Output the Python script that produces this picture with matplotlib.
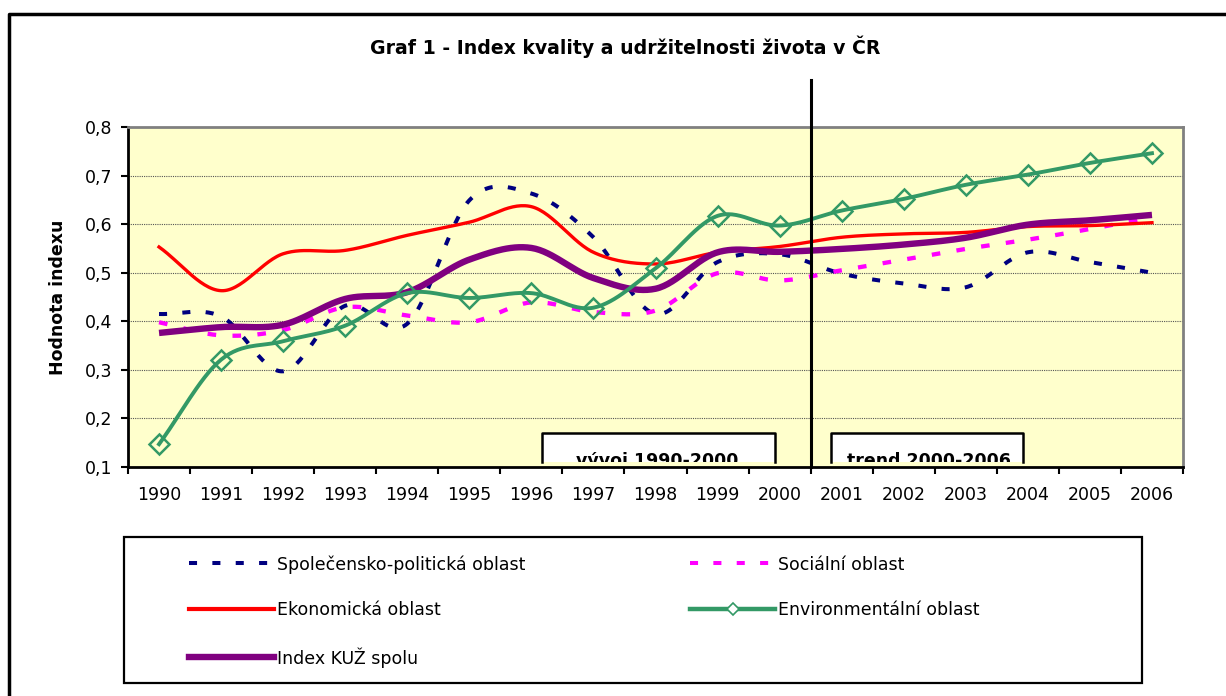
import numpy as np
import matplotlib
matplotlib.use("Agg")
import matplotlib.pyplot as plt
from matplotlib.lines import Line2D
from matplotlib.patches import Rectangle

plt.rcParams['font.family'] = ['DejaVu Sans']

years = [str(y) for y in range(1990, 2007)]
spolecensko = [0.415, 0.410, 0.297, 0.432, 0.395, 0.649, 0.663, 0.573, 0.415,
               0.522, 0.538, 0.498, 0.478, 0.470, 0.542, 0.522, 0.500]
socialni = [0.398, 0.371, 0.382, 0.429, 0.412, 0.398, 0.439, 0.419, 0.422,
            0.499, 0.484, 0.505, 0.527, 0.549, 0.568, 0.590, 0.614]
ekonomicka = [0.553, 0.463, 0.539, 0.546, 0.577, 0.604, 0.636, 0.542, 0.518,
              0.542, 0.554, 0.573, 0.580, 0.583, 0.595, 0.597, 0.603]
environment = [0.147, 0.321, 0.359, 0.391, 0.458, 0.448, 0.458, 0.428, 0.509,
               0.617, 0.597, 0.628, 0.652, 0.681, 0.702, 0.726, 0.746]
index_kuz = [0.376, 0.388, 0.393, 0.446, 0.460, 0.527, 0.551, 0.489, 0.467,
             0.542, 0.543, 0.549, 0.558, 0.572, 0.599, 0.608, 0.619]
y_ticks = [0.1, 0.2, 0.3, 0.4, 0.5, 0.6, 0.7, 0.8]
y_ticklabels = ['0,1', '0,2', '0,3', '0,4', '0,5', '0,6', '0,7', '0,8']
labels = ['Společensko-politická oblast', 'Sociální oblast', 'Ekonomická oblast',
          'Environmentální oblast', 'Index KUŽ spolu']


def smooth(xs, ys, n=30):
    """Catmull-Rom (Excel-like) smoothing used only for rendering."""
    p = np.column_stack([xs, ys]).astype(float)
    m = np.zeros_like(p)
    m[1:-1] = (p[2:] - p[:-2]) / 2.0
    m[0] = p[1] - p[0]
    m[-1] = p[-1] - p[-2]
    out = []
    t = np.linspace(0, 1, n, endpoint=False)
    h00 = 2 * t**3 - 3 * t**2 + 1
    h10 = t**3 - 2 * t**2 + t
    h01 = -2 * t**3 + 3 * t**2
    h11 = t**3 - t**2
    for i in range(len(p) - 1):
        seg = (h00[:, None] * p[i] + h10[:, None] * m[i] +
               h01[:, None] * p[i + 1] + h11[:, None] * m[i + 1])
        out.append(seg)
    out.append(p[-1:])
    out = np.vstack(out)
    return out[:, 0], out[:, 1]


W, H = 1226, 696
fig = plt.figure(figsize=(W / 100, H / 100), dpi=100)
ax = fig.add_axes([128 / W, 1 - 467 / H, (1183 - 128) / W, (467 - 127) / H])
ax.set_facecolor('#FFFFCC')

x = np.arange(len(years))
fs = 12.5

navy, magenta, red, green, purple = '#000080', '#FF00FF', '#FF0000', '#339966', '#800080'
dash = (2.0, 3.8)

sx, sy = smooth(x, spolecensko)
ax.plot(sx, sy, color=navy, lw=2.9, dashes=dash, dash_capstyle='butt', zorder=3)
sx, sy = smooth(x, socialni)
ax.plot(sx, sy, color=magenta, lw=3.1, dashes=dash, dash_capstyle='butt', zorder=3)
sx, sy = smooth(x, ekonomicka)
ax.plot(sx, sy, color=red, lw=2.4, zorder=4)
sx, sy = smooth(x, environment)
ax.plot(sx, sy, color=green, lw=2.8, zorder=5)
ax.plot(x, environment, ls='none', marker='D', ms=10, mfc='none', mec=green,
        mew=1.8, zorder=6, clip_on=False)
sx, sy = smooth(x, index_kuz)
ax.plot(sx, sy, color=purple, lw=4.6, zorder=4, solid_capstyle='butt')

ax.set_xlim(-0.5, len(years) - 0.5)
ax.set_ylim(0.1, 0.8)

ax.set_xticks(x)
ax.set_xticklabels(years, fontsize=fs)
ax.set_xticks(np.arange(len(years) + 1) - 0.5, minor=True)
ax.tick_params(axis='x', which='major', length=0, pad=14)
ax.tick_params(axis='x', which='minor', length=5, width=1.5, direction='out')
ax.set_yticks(y_ticks)
ax.set_yticklabels(y_ticklabels, fontsize=fs)
ax.tick_params(axis='y', length=5, width=1.5, direction='out', pad=6)

for v in y_ticks[1:-1]:
    ax.axhline(v, color='#555555', lw=0.8, ls=(0, (1, 1)), zorder=1)

for s in ['top', 'right']:
    ax.spines[s].set_color('#808080')
    ax.spines[s].set_linewidth(2)
for s in ['left', 'bottom']:
    ax.spines[s].set_color('black')
    ax.spines[s].set_linewidth(2)

ax.set_ylabel('Hodnota indexu', fontsize=fs, fontweight='bold', labelpad=13)

# divider between history and trend
ax.plot([10.5, 10.5], [0.1, 0.897], color='black', lw=2.2, zorder=8, clip_on=False)

# period boxes (text overflows the box bottom and is cut, as in the original)
box_bottom, box_top = 0.0147, 0.1
for (x0, x1, xc, txt) in [(0.392, 0.613, 0.502, 'vývoj 1990-2000'),
                          (0.666, 0.848, 0.759, 'trend 2000-2006')]:
    r = Rectangle((x0, box_bottom), x1 - x0, box_top - box_bottom, transform=ax.transAxes,
                  facecolor='white', edgecolor='none', zorder=7)
    ax.add_patch(r)
    ax.add_line(Line2D([x0, x0, x1, x1], [box_bottom, box_top, box_top, box_bottom],
                       transform=ax.transAxes, color='black', lw=1.8, zorder=7.5))
    t = ax.text(xc, 0.004, txt, transform=ax.transAxes, ha='center', va='baseline',
                fontsize=fs, fontweight='bold', zorder=8)
    t.set_clip_on(True)
    t.set_clip_path(r)

fig.text(625 / W, 1 - 47 / H, 'Graf 1 - Index kvality a udržitelnosti života v ČR',
         ha='center', va='center', fontsize=13.6, fontweight='bold')

# outer frame (top and left visible)
fig.add_artist(Line2D([9 / W, 9 / W, 1.02], [-0.02, 1 - 14 / H, 1 - 14 / H],
                      transform=fig.transFigure, color='black', lw=2.5))

# legend frame
fig.add_artist(Rectangle((124 / W, 1 - 683 / H), (1142 - 124) / W, (683 - 537) / H,
                         transform=fig.transFigure, facecolor='white',
                         edgecolor='black', lw=1.6))

handles = [
    Line2D([], [], color=navy, lw=2.9, dashes=dash, dash_capstyle='butt'),
    Line2D([], [], color=red, lw=3.0),
    Line2D([], [], color=purple, lw=4.6),
    Line2D([], [], color=magenta, lw=2.9, dashes=dash, dash_capstyle='butt'),
    Line2D([], [], color=green, lw=3.2, marker='D', ms=6, mfc='white', mec=green, mew=1.2),
]
leg_labels = [labels[0], labels[2], labels[4], labels[1], labels[3]]
leg = fig.legend(handles, leg_labels, loc='upper left',
                 bbox_to_anchor=(189 / W, 1 - 555 / H), ncol=2, frameon=False,
                 fontsize=fs, handlelength=4.9, handletextpad=0.15,
                 columnspacing=9.5, labelspacing=1.6, borderpad=0, borderaxespad=0)

fig.savefig('out.png', dpi=100, facecolor='white')
